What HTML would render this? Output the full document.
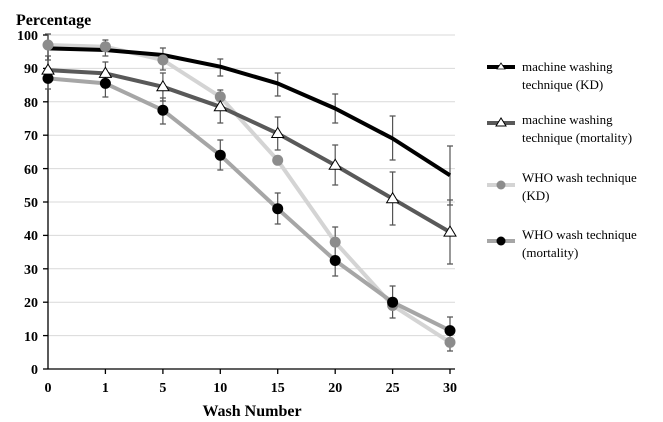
<!DOCTYPE html>
<html><head><style>body{margin:0;background:#fff}svg{display:block}</style></head><body>
<svg width="663" height="422" xmlns="http://www.w3.org/2000/svg" font-family="Liberation Serif, serif">
<g stroke="#d9d9d9" stroke-width="1">
<line x1="48" x2="455" y1="35" y2="35"/><line x1="48" x2="455" y1="68.4" y2="68.4"/><line x1="48" x2="455" y1="101.8" y2="101.8"/><line x1="48" x2="455" y1="135.2" y2="135.2"/><line x1="48" x2="455" y1="168.6" y2="168.6"/><line x1="48" x2="455" y1="202" y2="202"/><line x1="48" x2="455" y1="235.4" y2="235.4"/><line x1="48" x2="455" y1="268.8" y2="268.8"/><line x1="48" x2="455" y1="302.2" y2="302.2"/><line x1="48" x2="455" y1="335.6" y2="335.6"/>
</g>
<g stroke="#000" stroke-width="1.3">
<line x1="48" x2="48" y1="35" y2="369"/><line x1="48" x2="455" y1="369" y2="369"/>
<line x1="43" x2="48" y1="35" y2="35"/><line x1="43" x2="48" y1="68.4" y2="68.4"/><line x1="43" x2="48" y1="101.8" y2="101.8"/><line x1="43" x2="48" y1="135.2" y2="135.2"/><line x1="43" x2="48" y1="168.6" y2="168.6"/><line x1="43" x2="48" y1="202" y2="202"/><line x1="43" x2="48" y1="235.4" y2="235.4"/><line x1="43" x2="48" y1="268.8" y2="268.8"/><line x1="43" x2="48" y1="302.2" y2="302.2"/><line x1="43" x2="48" y1="335.6" y2="335.6"/><line x1="43" x2="48" y1="369" y2="369"/>
<line x1="105.4" x2="105.4" y1="369" y2="374"/><line x1="162.9" x2="162.9" y1="369" y2="374"/><line x1="220.3" x2="220.3" y1="369" y2="374"/><line x1="277.7" x2="277.7" y1="369" y2="374"/><line x1="335.2" x2="335.2" y1="369" y2="374"/><line x1="392.6" x2="392.6" y1="369" y2="374"/><line x1="450" x2="450" y1="369" y2="374"/>
</g>
<g font-size="14" font-weight="bold" text-anchor="end">
<text x="38" y="40">100</text><text x="38" y="73">90</text><text x="38" y="107">80</text><text x="38" y="140">70</text><text x="38" y="174">60</text><text x="38" y="207">50</text><text x="38" y="240">40</text><text x="38" y="274">30</text><text x="38" y="307">20</text><text x="38" y="341">10</text><text x="38" y="374">0</text>
</g>
<g font-size="14" font-weight="bold" text-anchor="middle">
<text x="48" y="392">0</text><text x="105.4" y="392">1</text><text x="162.9" y="392">5</text><text x="220.3" y="392">10</text><text x="277.7" y="392">15</text><text x="335.2" y="392">20</text><text x="392.6" y="392">25</text><text x="450" y="392">30</text>
<text x="252" y="416" font-size="16">Wash Number</text>
</g>
<text x="16" y="25" font-size="16" font-weight="bold">Percentage</text>
<g stroke="#555" stroke-width="1.2">
<path d="M45 60h6M48 60V81M45 81h6 M102.4 62h6M105.4 62V85M102.4 85h6 M159.9 73h6M162.9 73V101M159.9 101h6 M217.3 90h6M220.3 90V123M217.3 123h6 M274.7 117h6M277.7 117V150M274.7 150h6 M332.2 145h6M335.2 145V185M332.2 185h6 M389.6 172h6M392.6 172V225M389.6 225h6 M447 200h6M450 200V264M447 264h6"/>
<path d="M45 34h6M48 34V56M45 56h6 M102.4 40h6M105.4 40V56M102.4 56h6 M159.9 48h6M162.9 48V70M159.9 70h6 M217.3 59h6M220.3 59V76M217.3 76h6 M274.7 73h6M277.7 73V96M274.7 96h6 M332.2 94h6M335.2 94V123M332.2 123h6 M389.6 116h6M392.6 116V160M389.6 160h6 M447 146h6M450 146V205M447 205h6"/>
<path d="M45 68h6M48 68V89M45 89h6 M102.4 72h6M105.4 72V97M102.4 97h6 M159.9 98h6M162.9 98V124M159.9 124h6 M217.3 140h6M220.3 140V170M217.3 170h6 M274.7 193h6M277.7 193V224M274.7 224h6 M332.2 227h6M335.2 227V276M332.2 276h6 M389.6 286h6M392.6 286V318M389.6 318h6 M447 317h6M450 317V351M447 351h6"/>
</g>
<g fill="none" stroke-linejoin="round">
<polyline stroke="#d4d4d4" stroke-width="4" points="48,45 105.4,46.7 162.9,60 220.3,96.8 277.7,160.3 335.2,242.1 392.6,305.5 450,342.3"/>
<polyline stroke="#a6a6a6" stroke-width="4" points="48,78.4 105.4,83.4 162.9,110.2 220.3,155.2 277.7,208.7 335.2,260.5 392.6,302.2 450,330.6"/>
<polyline stroke="#595959" stroke-width="4" points="48,70.1 105.4,73.4 162.9,86.8 220.3,106.8 277.7,133.5 335.2,165.3 392.6,198.7 450,232.1"/>
<polyline stroke="#000" stroke-width="4" points="48,48.4 105.4,50 162.9,55 220.3,66.7 277.7,83.4 335.2,108.5 392.6,138.5 450,175.3"/>
</g>
<g fill="#8c8c8c"><circle cx="48" cy="45" r="5.5"/><circle cx="105.4" cy="46.7" r="5.5"/><circle cx="162.9" cy="60" r="5.5"/><circle cx="220.3" cy="96.8" r="5.5"/><circle cx="277.7" cy="160.3" r="5.5"/><circle cx="335.2" cy="242.1" r="5.5"/><circle cx="392.6" cy="305.5" r="5.5"/><circle cx="450" cy="342.3" r="5.5"/></g>
<g fill="#000"><circle cx="48" cy="78.4" r="5.5"/><circle cx="105.4" cy="83.4" r="5.5"/><circle cx="162.9" cy="110.2" r="5.5"/><circle cx="220.3" cy="155.2" r="5.5"/><circle cx="277.7" cy="208.7" r="5.5"/><circle cx="335.2" cy="260.5" r="5.5"/><circle cx="392.6" cy="302.2" r="5.5"/><circle cx="450" cy="330.6" r="5.5"/></g>
<g fill="#fff" stroke="#000" stroke-width="1">
<polygon points="48,64.1 42,74.1 54,74.1"/><polygon points="105.4,67.4 99.4,77.4 111.4,77.4"/><polygon points="162.9,80.8 156.9,90.8 168.9,90.8"/><polygon points="220.3,100.8 214.3,110.8 226.3,110.8"/><polygon points="277.7,127.5 271.7,137.5 283.7,137.5"/><polygon points="335.2,159.3 329.2,169.3 341.2,169.3"/><polygon points="392.6,192.7 386.6,202.7 398.6,202.7"/><polygon points="450,226.1 444,236.1 456,236.1"/>
</g>
<g>
<line x1="487" x2="515" y1="67" y2="67" stroke="#000" stroke-width="4"/><polygon points="501,63 497,69 505,69" fill="#fff" stroke="#000" stroke-width="0.8"/>
<line x1="487" x2="515" y1="123" y2="123" stroke="#595959" stroke-width="4"/><polygon points="501,118 496,126 506,126" fill="#fff" stroke="#000"/>
<line x1="487" x2="515" y1="185" y2="185" stroke="#d4d4d4" stroke-width="4"/><circle cx="501" cy="185" r="4.5" fill="#8c8c8c"/>
<line x1="487" x2="515" y1="241" y2="241" stroke="#a6a6a6" stroke-width="4"/><circle cx="501" cy="241" r="4.5" fill="#000"/>
</g>
<g font-size="13">
<text x="522" y="71">machine washing</text><text x="522" y="89">technique (KD)</text>
<text x="522" y="124">machine washing</text><text x="522" y="142">technique (mortality)</text>
<text x="522" y="182">WHO wash technique</text><text x="522" y="200">(KD)</text>
<text x="522" y="239">WHO wash technique</text><text x="522" y="257">(mortality)</text>
</g>
</svg>
</body></html>
